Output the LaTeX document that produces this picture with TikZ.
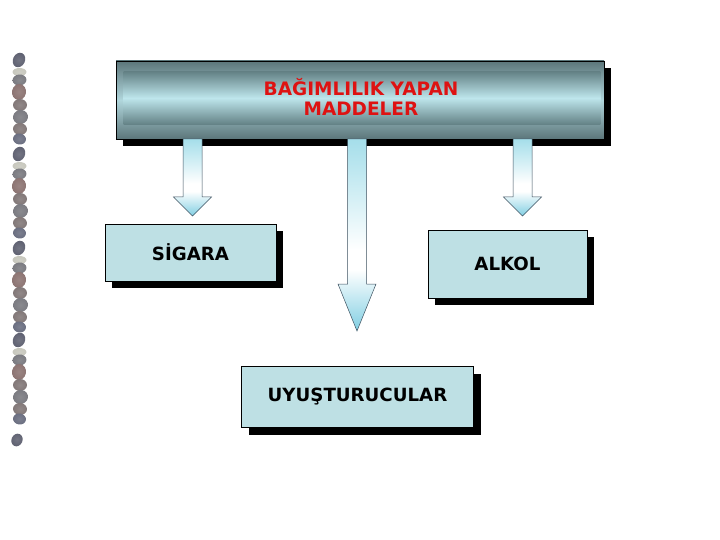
\documentclass[tikz,border=0pt]{standalone}
\usepackage{fontspec}
\setmainfont{DejaVu Sans}
\usetikzlibrary{shadows}
\definecolor{boxblue}{RGB}{190,224,228}
\definecolor{redtxt}{RGB}{222,18,18}
\definecolor{barDark}{RGB}{92,118,122}
\definecolor{barLight}{RGB}{176,214,220}
\definecolor{innDark}{RGB}{100,130,134}
\definecolor{innLight}{RGB}{190,230,236}
\definecolor{arrCyan}{RGB}{128,206,226}
\definecolor{arrTop}{RGB}{165,222,234}
\definecolor{arrEdge}{RGB}{60,80,95}
\definecolor{stDark}{RGB}{96,98,114}
\definecolor{stLight}{RGB}{200,200,190}
\definecolor{stGray}{RGB}{122,122,128}
\definecolor{stBrown}{RGB}{140,116,114}
\definecolor{stBrGray}{RGB}{130,120,120}
\definecolor{stBlue}{RGB}{106,110,128}
\pgfdeclareverticalshading{arrowshade}{100bp}{color(0bp)=(arrCyan); color(25bp)=(arrCyan);
  color(41bp)=(white); color(46bp)=(white); color(75bp)=(arrTop); color(100bp)=(arrTop)}
\tikzset{
  catbox/.style={rectangle, draw=black, line width=0.6pt, fill=boxblue,
    font=\bfseries\fontsize{18.2}{21}\selectfont, text=black,
    drop shadow={shadow xshift=7pt, shadow yshift=-7pt, fill=black, opacity=1}},
  topbox/.style={rectangle, draw=black, line width=0.6pt,
    top color=barDark, bottom color=barDark, middle color=barLight,
    minimum width=488pt, minimum height=78pt, inner sep=0pt,
    drop shadow={shadow xshift=7pt, shadow yshift=-7pt, fill=black, opacity=1}},
  blkarrow/.style={draw=arrEdge, line width=0.5pt, shading=arrowshade}
}
\newcommand{\myblockarrow}[5]{% x, ytop, yhead, ytip, name
  \coordinate (#5) at (#1,#4);
  \path[blkarrow] (#1-9.5,#2) -- (#1+9.5,#2) -- (#1+9.5,#3) -- (#1+19,#3)
    -- (#5) -- (#1-19,#3) -- (#1-9.5,#3) -- cycle;}
\newcommand{\mystone}[6]{% x, y, rx, ry, angle, colour
  \shade[inner color=#6!88!white, outer color=#6, rotate around={#5:(#1,#2)}]
    (#1,#2) ellipse (#3pt and #4pt);}
\begin{document}
\begin{tikzpicture}[x=1pt,y=-1pt]
\useasboundingbox (0,0) rectangle (720,540);
% stones
\foreach \p in {0,94,188,280}{
  \begin{scope}[shift={(0,\p)}]
    \mystone{19}{60}{6}{7.5}{-25}{stDark}
    \mystone{19.5}{72}{7}{4}{0}{stLight}
    \mystone{19.5}{80}{7}{5.5}{5}{stGray}
    \mystone{19}{92}{7}{8}{-10}{stBrown}
    \mystone{20}{105}{7}{6}{0}{stBrGray}
    \mystone{20.5}{117}{7.5}{7}{15}{stGray}
    \mystone{20}{129}{7}{6}{-5}{stBrGray}
    \mystone{19.5}{139}{6.5}{5.5}{-10}{stBlue}
  \end{scope}}
\mystone{17}{440}{5.5}{6.5}{-25}{stDark}
% top box
\node[topbox] (top) at (360,100) {};
\shade[top color=innDark, bottom color=innDark, middle color=innLight]
  ([xshift=8pt,yshift=-11pt]top.north west) rectangle ([xshift=-4pt,yshift=15pt]top.south east);
\node[text=redtxt, font=\bfseries\fontsize{18.5}{19.5}\selectfont, align=center]
  (toptxt) at (361,97) {BAĞIMLILIK YAPAN\\MADDELER};
% category boxes
\node[catbox, minimum width=171pt, minimum height=57pt] (sig) at (190.5,252.5) {SİGARA};
\node[catbox, minimum width=159pt, minimum height=68pt] (alk) at (507.5,264) {ALKOL};
\node[catbox, minimum width=232pt, minimum height=61pt] (uyu) at (357.5,397) {UYUŞTURUCULAR};
% arrows
\myblockarrow{192.5}{139}{197}{216}{a1}
\myblockarrow{357}{139}{284}{331}{a2}
\myblockarrow{522.5}{139}{197}{216}{a3}
\end{tikzpicture}
\end{document}
